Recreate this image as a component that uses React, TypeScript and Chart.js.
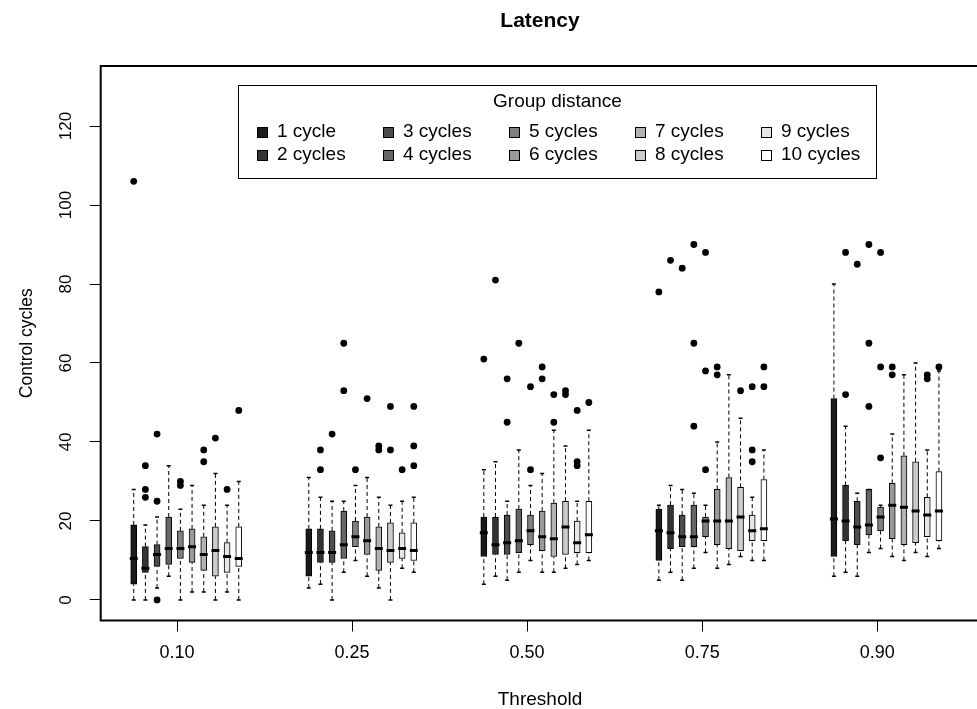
import { useEffect, useRef } from "react";
import { Chart, registerables } from "chart.js";

Chart.register(...registerables);

// ---------------- data ----------------
const TITLE = "Latency";
const X_TITLE = "Threshold";
const Y_TITLE = "Control cycles";
const LEGEND_TITLE = "Group distance";

const THRESHOLDS = ["0.10", "0.25", "0.50", "0.75", "0.90"];
const SERIES = [
  "1 cycle", "2 cycles", "3 cycles", "4 cycles", "5 cycles",
  "6 cycles", "7 cycles", "8 cycles", "9 cycles", "10 cycles",
];
const FILLS = [
  "#1A1A1A", "#333333", "#4D4D4D", "#666666", "#808080",
  "#999999", "#B3B3B3", "#CCCCCC", "#E6E6E6", "#FFFFFF",
];
const Y_TICKS = [0, 20, 40, 60, 80, 100, 120];

// rows = series (1..10 cycles), columns = thresholds
const WHISKER_LOW = [
  [0, 3, 4, 5, 6],
  [0, 4, 6, 7, 7],
  [3, 0, 5, 5, 6],
  [6, 7, 7, 8, 12],
  [0, 10, 10, 12, 13],
  [2, 6, 7, 8, 11],
  [2, 3, 7, 9, 10],
  [0, 0, 8, 11, 12],
  [2, 8, 9, 10, 11],
  [0, 7, 10, 10, 13],
];
const Q1 = [
  [4, 6, 11, 10, 11],
  [7, 9.5, 11.5, 13, 15],
  [8.5, 9.5, 11.5, 13.5, 14],
  [9, 10.5, 12, 13.5, 16.5],
  [10.5, 13.5, 14, 16, 17.5],
  [9.5, 11.5, 12.5, 14, 15.5],
  [7.5, 7.5, 11, 13, 14],
  [6, 9.5, 11.5, 12.5, 14.5],
  [7, 10.5, 12, 15, 16],
  [8.5, 10, 12, 15, 15],
];
const MEDIAN = [
  [10.5, 12, 17, 17.5, 20.5],
  [8, 12, 14, 17, 20],
  [11.5, 12, 14.5, 16, 18.5],
  [13, 14, 15, 16, 19],
  [13, 16, 17.5, 20, 21],
  [13.5, 15, 16, 20, 24],
  [11.5, 13, 15.5, 20, 23.5],
  [12.5, 12.5, 18.5, 21, 22.5],
  [11, 13, 14.5, 17.5, 21.5],
  [10.5, 12.5, 16.5, 18, 22.5],
];
const Q3 = [
  [19, 18, 21, 23, 51],
  [13.5, 18, 21, 24, 29],
  [14, 17.5, 21.5, 21.5, 25],
  [21, 22.5, 23, 24, 28],
  [17.5, 20, 21.5, 21, 23.5],
  [18, 21, 22.5, 28, 29.5],
  [16, 18.5, 24.5, 31, 36.5],
  [18.5, 19.5, 25, 28.5, 35],
  [14.5, 17, 20, 21.5, 26],
  [18.5, 19.5, 25, 30.5, 32.5],
];
const WHISKER_HIGH = [
  [28, 31, 33, 24, 80],
  [19, 26, 35, 29, 44],
  [21, 25, 25, 28, 27],
  [34, 25, 38, 27, 28],
  [23, 29, 29, 24, 24],
  [29, 31, 32, 40, 42],
  [24, 26, 43, 57, 57],
  [32, 24, 39, 46, 60],
  [24, 25, 25, 26, 38],
  [30, 26, 43, 38, 58],
];
const OUTLIERS = [
  [[106], [], [61], [78], []],
  [[34, 28, 26], [38, 33], [81], [86], [88, 52]],
  [[42, 25, 0], [42], [56, 45], [84], [85]],
  [[], [65, 53], [65], [90, 65, 44], [90, 65, 49]],
  [[30, 29], [33], [54, 33], [88, 58, 33], [88, 59, 36]],
  [[], [51], [59, 56], [59, 57], [59, 57]],
  [[38, 35], [39, 38], [52, 45], [], []],
  [[41], [49, 38], [53, 52], [53], []],
  [[28], [33], [48, 35, 34], [54, 38, 35], [57, 56]],
  [[48], [49, 39, 34], [50], [59, 54], [59]],
];

// ---------------- layout ----------------
const GROUP_STRIDE = 15;
const TICK_OFFSET = 3.71;
const X_MIN = -2.83;
const X_MAX = 72.46;
const Y_MIN = -5.2;
const Y_MAX = 135.2;
const FONT = '"Liberation Sans", Arial, Helvetica, sans-serif';

const pos = (s: number, g: number) => g * GROUP_STRIDE + s;

const framePlugin = {
  id: "rFrame",
  afterDraw(chart: any) {
    const { ctx, chartArea } = chart;
    ctx.save();
    ctx.strokeStyle = "#000";
    ctx.lineWidth = 2;
    ctx.strokeRect(chartArea.left, chartArea.top, chartArea.right - chartArea.left, chartArea.bottom - chartArea.top);
    ctx.restore();
  },
};

const legendPlugin = {
  id: "rLegend",
  afterDraw(chart: any) {
    const ctx = chart.ctx;
    const L = 238.5, T = 85.5, R = 876.5, B = 178.5;
    ctx.save();
    ctx.fillStyle = "#fff";
    ctx.fillRect(L, T, R - L, B - T);
    ctx.strokeStyle = "#000";
    ctx.lineWidth = 1;
    ctx.strokeRect(L, T, R - L, B - T);
    ctx.fillStyle = "#000";
    ctx.font = `19px ${FONT}`;
    ctx.textAlign = "center";
    ctx.textBaseline = "middle";
    ctx.fillText(LEGEND_TITLE, (L + R) / 2, 102);
    ctx.textAlign = "left";
    const bars = chart.data.datasets.filter((d: any) => d.type === "bar");
    bars.forEach((d: any, i: number) => {
      const col = Math.floor(i / 2);
      const row = i % 2;
      const cy = 132 + row * 23;
      const sx = 257 + col * 126;
      ctx.fillStyle = d.backgroundColor;
      ctx.fillRect(sx, cy - 5, 10, 10);
      ctx.strokeStyle = "#000";
      ctx.strokeRect(sx + 0.5, cy - 4.5, 10, 10);
      ctx.fillStyle = "#000";
      ctx.fillText(d.label, sx + 20, cy);
    });
    ctx.restore();
  },
};

export default function App() {
  const ref = useRef<HTMLCanvasElement | null>(null);

  useEffect(() => {
    document.body.style.margin = "0";
    const canvas = ref.current;
    if (!canvas) return;

    const datasets: any[] = [];
    SERIES.forEach((name, s) => {
      datasets.push({
        type: "bar",
        label: name,
        data: THRESHOLDS.map((_, g) => ({ x: pos(s, g), y: [Q1[s][g], Q3[s][g]] })),
        backgroundColor: FILLS[s],
        borderColor: "#000",
        borderWidth: 1,
        borderSkipped: false,
        barThickness: 6,
        grouped: false,
        order: 3,
      });
    });
    SERIES.forEach((name, s) => {
      datasets.push({
        type: "scatter",
        label: name + " whiskers",
        data: THRESHOLDS.flatMap((_, g) => {
          const x = pos(s, g);
          return [
            { x, y: WHISKER_LOW[s][g] },
            { x, y: Q1[s][g] },
            { x, y: null },
            { x, y: Q3[s][g] },
            { x, y: WHISKER_HIGH[s][g] },
            { x, y: null },
          ];
        }),
        showLine: true,
        spanGaps: false,
        borderColor: "#000",
        borderWidth: 1,
        borderDash: [4, 3],
        pointRadius: 0,
        order: 4,
      });
      datasets.push({
        type: "scatter",
        label: name + " staples",
        data: THRESHOLDS.flatMap((_, g) => {
          const x = pos(s, g);
          return [{ x, y: WHISKER_LOW[s][g] }, { x, y: WHISKER_HIGH[s][g] }];
        }),
        pointStyle: "line",
        pointRadius: 2,
        pointBorderWidth: 1.5,
        pointBorderColor: "#000",
        order: 2,
      });
      datasets.push({
        type: "scatter",
        label: name + " medians",
        data: THRESHOLDS.map((_, g) => ({ x: pos(s, g), y: MEDIAN[s][g] })),
        pointStyle: "line",
        pointRadius: 4,
        pointBorderWidth: 3,
        pointBorderColor: "#000",
        order: 1,
      });
      datasets.push({
        type: "scatter",
        label: name + " outliers",
        data: THRESHOLDS.flatMap((_, g) => OUTLIERS[s][g].map((v) => ({ x: pos(s, g), y: v }))),
        pointStyle: "circle",
        pointRadius: 3.4,
        pointBorderWidth: 0,
        pointBackgroundColor: "#000",
        order: 0,
      });
    });

    Chart.defaults.font.family = FONT;
    Chart.defaults.color = "#000";

    const chart = new Chart(canvas, {
      type: "bar",
      data: { datasets },
      options: {
        animation: false,
        responsive: false,
        devicePixelRatio: 1,
        events: [],
        layout: { padding: { left: 0, right: 10.7, top: 0, bottom: 0 } },
        plugins: {
          legend: { display: false },
          tooltip: { enabled: false },
          title: {
            display: true,
            text: TITLE,
            fullSize: false,
            color: "#000",
            font: { size: 21, weight: "bold", lineHeight: 1 },
            padding: { top: 10.3, bottom: 34.7 },
          },
        },
        scales: {
          x: {
            type: "linear",
            min: X_MIN,
            max: X_MAX,
            offset: false,
            afterBuildTicks: (scale: any) => {
              scale.ticks = THRESHOLDS.map((_, g) => ({ value: g * GROUP_STRIDE + TICK_OFFSET }));
            },
            afterFit: (scale: any) => {
              scale.height = 88.5;
            },
            ticks: {
              autoSkip: false,
              maxRotation: 0,
              minRotation: 0,
              padding: 11.2,
              color: "#000",
              font: { size: 18, lineHeight: 1.2 },
              callback: (_v: any, i: number) => THRESHOLDS[i],
            },
            grid: {
              display: true,
              drawOnChartArea: false,
              drawTicks: true,
              tickLength: 11,
              offset: false,
              color: "#000",
              lineWidth: 1,
            },
            border: { display: false },
            title: {
              display: true,
              text: X_TITLE,
              color: "#000",
              font: { size: 19, lineHeight: 1 },
              padding: { top: 0, bottom: 0 },
            },
          },
          y: {
            type: "linear",
            min: Y_MIN,
            max: Y_MAX,
            afterBuildTicks: (scale: any) => {
              scale.ticks = Y_TICKS.map((v) => ({ value: v }));
            },
            afterFit: (scale: any) => {
              scale.width = 100.7;
            },
            ticks: {
              minRotation: 90,
              maxRotation: 90,
              crossAlign: "center",
              padding: 9.2,
              color: "#000",
              font: { size: 17, lineHeight: 1.2 },
              callback: (v: any) => String(v),
            },
            grid: {
              display: true,
              drawOnChartArea: false,
              drawTicks: true,
              tickLength: 11,
              color: "#000",
              lineWidth: 1,
            },
            border: { display: false },
            title: {
              display: true,
              text: Y_TITLE,
              color: "#000",
              font: { size: 17.5, lineHeight: 1 },
              padding: { top: 18, bottom: 0 },
            },
          },
        },
      },
      plugins: [framePlugin, legendPlugin],
    } as any);

    return () => chart.destroy();
  }, []);

  return (
    <div style={{ width: 977, height: 709, overflow: "hidden" }}>
      <canvas ref={ref} width={990} height={709} style={{ display: "block", width: 990, height: 709 }} />
    </div>
  );
}
